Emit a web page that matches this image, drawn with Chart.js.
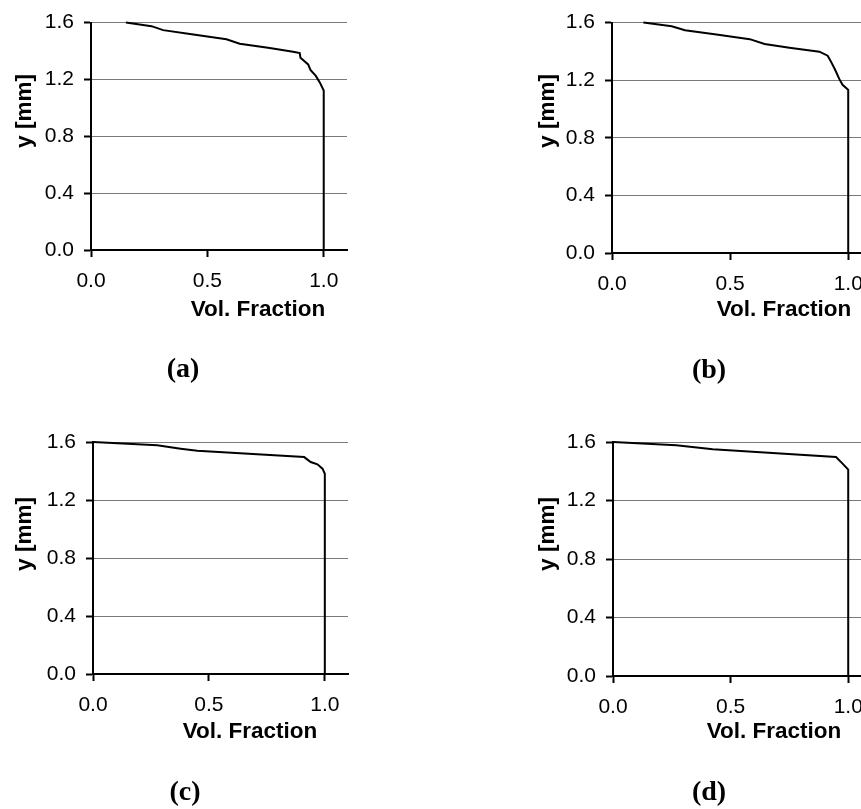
<!DOCTYPE html>
<html>
<head>
<meta charset="utf-8">
<script src="https://cdn.jsdelivr.net/npm/chart.js@4.4.1/dist/chart.umd.min.js"></script>
<style>
  html, body { margin: 0; padding: 0; background: #fff; }
  body { width: 861px; height: 809px; overflow: hidden; position: relative; }
  canvas { position: absolute; }
</style>
</head>
<body>
<canvas id="pa"></canvas>
<canvas id="pb"></canvas>
<canvas id="pc"></canvas>
<canvas id="pd"></canvas>
<script>
// values
const xTicks = [0, 0.5, 1.0];
const yTicks = [0, 0.4, 0.8, 1.2, 1.6];

const fracA = [0.15, 0.26, 0.31, 0.425, 0.582, 0.639, 0.768, 0.868, 0.897, 0.9, 0.933, 0.943, 0.966, 0.983, 1.0, 1.0];
const yA    = [1.6, 1.575, 1.547, 1.52, 1.483, 1.451, 1.421, 1.395, 1.386, 1.352, 1.306, 1.267, 1.225, 1.179, 1.122, 0];

const fracB = [0.133, 0.253, 0.309, 0.442, 0.583, 0.646, 0.751, 0.878, 0.913, 0.927, 0.945, 0.962, 0.976, 0.997, 1.0, 1.0];
const yB    = [1.6, 1.575, 1.547, 1.517, 1.485, 1.451, 1.425, 1.398, 1.37, 1.329, 1.271, 1.209, 1.168, 1.138, 1.133, 0];

const fracC = [0, 0.277, 0.378, 0.45, 0.911, 0.939, 0.968, 0.99, 1.0, 1.0];
const yC    = [1.6, 1.577, 1.554, 1.54, 1.496, 1.462, 1.446, 1.416, 1.381, 0];

const fracD = [0, 0.269, 0.424, 0.948, 0.976, 1.0, 1.0];
const yD    = [1.6, 1.577, 1.55, 1.497, 1.452, 1.411, 0];

const xTitle = 'Vol. Fraction';
const yTitle = 'y [mm]';

Chart.defaults.font.family = '"Liberation Sans", Arial, sans-serif';
Chart.defaults.font.size = 21;
Chart.defaults.color = '#000';

// page layout of each panel: canvas box + plot area + text anchors
const panels = [
  { id: 'pa', letter: '(a)', fx: fracA, fy: yA, left: 0, top: 0, w: 430, h: 400,
    area: [91, 347, 19, 250], xt: [258, 310], yt: [25, 111], lt: [183, 370] },
  { id: 'pb', letter: '(b)', fx: fracB, fy: yB, left: 430, top: 0, w: 445, h: 400,
    area: [612, 873, 19, 253], xt: [784, 310], yt: [548, 111], lt: [709, 371] },
  { id: 'pc', letter: '(c)', fx: fracC, fy: yC, left: 0, top: 400, w: 430, h: 409,
    area: [93, 348, 442, 674], xt: [250, 732], yt: [25, 534], lt: [185, 793] },
  { id: 'pd', letter: '(d)', fx: fracD, fy: yD, left: 430, top: 400, w: 445, h: 409,
    area: [613, 873, 442, 676], xt: [774, 732], yt: [548, 534], lt: [709, 793] },
];

const panelText = {
  id: 'panelText',
  afterDraw(chart, args, opts) {
    const ctx = chart.ctx;
    ctx.save();
    ctx.fillStyle = '#000';
    ctx.textAlign = 'center';
    ctx.textBaseline = 'middle';
    ctx.font = 'bold 22.5px "Liberation Sans", Arial, sans-serif';
    ctx.fillText(xTitle, opts.xt[0], opts.xt[1]);
    ctx.save();
    ctx.translate(opts.yt[0], opts.yt[1]);
    ctx.rotate(-Math.PI / 2);
    ctx.fillText(yTitle, 0, 0);
    ctx.restore();
    ctx.font = 'bold 28px "Liberation Serif", "Times New Roman", serif';
    ctx.fillText(opts.letter, opts.lt[0], opts.lt[1]);
    ctx.restore();
  }
};

panels.forEach(p => {
  const cv = document.getElementById(p.id);
  cv.width = p.w;
  cv.height = p.h;
  cv.style.left = p.left + 'px';
  cv.style.top = p.top + 'px';
  cv.style.width = p.w + 'px';
  cv.style.height = p.h + 'px';

  const [aL, aR, aT, aB] = p.area;
  const yAxisW = aL - p.left;
  const xAxisH = p.top + p.h - aB;

  new Chart(cv, {
    type: 'scatter',
    data: {
      datasets: [{
        data: p.fx.map((v, i) => ({ x: v, y: p.fy[i] })),
        showLine: true,
        borderColor: '#000',
        borderWidth: 2,
        pointRadius: 0,
        tension: 0,
        clip: false,
      }],
    },
    options: {
      responsive: false,
      animation: false,
      events: [],
      layout: { padding: { left: 0, bottom: 0, top: aT - p.top, right: p.left + p.w - aR } },
      plugins: {
        legend: { display: false },
        tooltip: { enabled: false },
        panelText: { xt: [p.xt[0] - p.left, p.xt[1] - p.top], yt: [p.yt[0] - p.left, p.yt[1] - p.top],
                     lt: [p.lt[0] - p.left, p.lt[1] - p.top], letter: p.letter },
      },
      scales: {
        x: {
          type: 'linear',
          min: 0,
          max: 1.1,
          afterBuildTicks: s => { s.ticks = xTicks.map(v => ({ value: v })); },
          afterFit: s => { s.height = xAxisH; },
          ticks: { padding: 12, maxRotation: 0, callback: v => v.toFixed(1) },
          grid: { drawOnChartArea: false, tickLength: 7, tickColor: '#000', tickWidth: 2 },
          border: { display: true, color: '#000', width: 2 },
        },
        y: {
          type: 'linear',
          min: 0,
          max: 1.6,
          afterBuildTicks: s => { s.ticks = yTicks.map(v => ({ value: v })); },
          afterFit: s => { s.width = yAxisW; },
          ticks: { padding: 10, callback: v => v.toFixed(1) },
          grid: { color: '#7a7a7a', lineWidth: 1, tickLength: 7, tickColor: '#000', tickWidth: 2 },
          border: { display: true, color: '#000', width: 2 },
        },
      },
    },
    plugins: [panelText],
  });
});
</script>
</body>
</html>
